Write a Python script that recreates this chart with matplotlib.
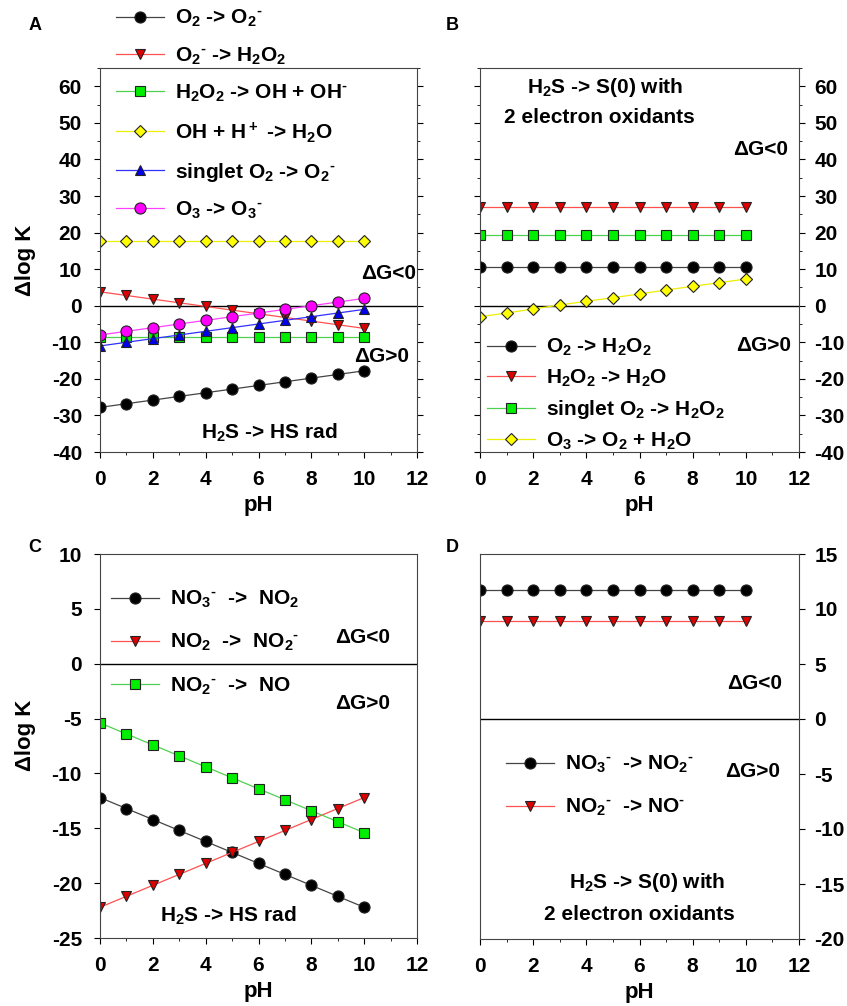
import matplotlib.pyplot as plt
from matplotlib.ticker import MultipleLocator

plt.rcParams['font.family'] = ['Liberation Sans', 'DejaVu Sans']
plt.rcParams['font.weight'] = 'bold'
plt.rcParams['axes.labelweight'] = 'bold'
plt.rcParams['mathtext.default'] = 'regular'
plt.rcParams['axes.unicode_minus'] = False
plt.rcParams['axes.edgecolor'] = '#444444'

ph = [0, 1, 2, 3, 4, 5, 6, 7, 8, 9, 10]

# A: H2S -> HS radical
a_o2 = [-27.8, -26.8, -25.8, -24.8, -23.8, -22.8, -21.8, -20.8, -19.8, -18.8, -17.8]
a_o2m = [3.8, 2.8, 1.8, 0.8, -0.2, -1.2, -2.2, -3.2, -4.2, -5.2, -6.2]
a_h2o2 = [-8.5, -8.5, -8.5, -8.5, -8.5, -8.5, -8.5, -8.5, -8.5, -8.5, -8.5]
a_oh = [17.6, 17.6, 17.6, 17.6, 17.6, 17.6, 17.6, 17.6, 17.6, 17.6, 17.6]
a_singlet = [-11, -10, -9, -8, -7, -6, -5, -4, -3, -2, -1]
a_o3 = [-8, -7, -6, -5, -4, -3, -2, -1, 0, 1, 2]

# B: H2S -> S(0), 2 electron oxidants
b_o2 = [10.7, 10.7, 10.7, 10.7, 10.7, 10.7, 10.7, 10.7, 10.7, 10.7, 10.7]
b_h2o2 = [27.1, 27.1, 27.1, 27.1, 27.1, 27.1, 27.1, 27.1, 27.1, 27.1, 27.1]
b_singlet = [19.3, 19.3, 19.3, 19.3, 19.3, 19.3, 19.3, 19.3, 19.3, 19.3, 19.3]
b_o3 = [-3.0, -2.0, -0.9, 0.2, 1.2, 2.2, 3.2, 4.3, 5.3, 6.3, 7.3]

# C: nitrogen, H2S -> HS radical
c_no3 = [-12.2, -13.2, -14.2, -15.2, -16.2, -17.2, -18.2, -19.2, -20.2, -21.2, -22.2]
c_no2 = [-22.2, -21.2, -20.2, -19.2, -18.2, -17.2, -16.2, -15.2, -14.2, -13.2, -12.2]
c_no2m = [-5.4, -6.4, -7.4, -8.4, -9.4, -10.4, -11.4, -12.4, -13.4, -14.4, -15.4]

# D: nitrogen, H2S -> S(0)
d_no3 = [11.7, 11.7, 11.7, 11.7, 11.7, 11.7, 11.7, 11.7, 11.7, 11.7, 11.7]
d_no2m = [8.9, 8.9, 8.9, 8.9, 8.9, 8.9, 8.9, 8.9, 8.9, 8.9, 8.9]

FS = 15
W, H = 847, 1006
M = '{}^{\u2010}'  # short superscript dash, placed after the subscript

# (line colour, marker, face colour)
st_black = ('#444444', 'o', 'black')
st_red = ('#ff5050', 'v', '#dd0000')
st_green = ('#50d050', 's', '#00ee00')
st_yellow = ('#eeee00', 'D', '#ffff00')
st_blue = ('#3030ff', '^', '#0000ee')
st_pink = ('#ff40ff', 'o', '#ff00ff')


def series(ax, y, style, label):
    lc, m, fc = style
    ms = 6.5 if m == 'D' else 8 if m == 'o' else 7.5
    ax.plot(ph, y, color=lc, lw=0.9, marker=m, ms=ms, mfc=fc, mec='#222222',
            mew=0.8, label=label)


def px(x, y):
    return (x / W, 1 - y / H)


def legend(ax, x, y, spacing):
    ax.legend(loc='upper left', bbox_to_anchor=px(x, y), bbox_transform=fig.transFigure,
              frameon=False, fontsize=FS, borderpad=0, borderaxespad=0,
              handlelength=2.3, handletextpad=0.55, labelspacing=spacing)


fig = plt.figure(figsize=(W / 100, H / 100), dpi=100)
axA = fig.add_axes([100 / W, 1 - 452 / H, 317 / W, 384 / H])
axB = fig.add_axes([480 / W, 1 - 452 / H, 319 / W, 384 / H])
axC = fig.add_axes([100 / W, 1 - 938 / H, 317 / W, 384 / H])
axD = fig.add_axes([480 / W, 1 - 939 / H, 319 / W, 385 / H])

for ax in (axA, axB, axC, axD):
    ax.set_xlim(0, 12)
    ax.xaxis.set_major_locator(MultipleLocator(2))
    ax.xaxis.set_minor_locator(MultipleLocator(1))
    ax.axhline(0, color='black', lw=1, zorder=1)
    ax.tick_params(which='both', direction='out', labelsize=FS, top=False)
    ax.tick_params(which='major', length=4)
    ax.tick_params(which='minor', length=2.5)
    ax.tick_params(axis='x', which='major', pad=9)
    ax.set_xlabel('pH', fontsize=FS + 1, labelpad=4)

# left-labelled panels sit further from the spine than right-labelled ones
for ax in (axA, axC):
    ax.tick_params(axis='y', which='major', pad=9)
for ax in (axB, axD):
    ax.tick_params(axis='y', which='major', pad=7)

# panel A
series(axA, a_o2, st_black, '$O_2$ -> $O_2' + M + '$')
series(axA, a_o2m, st_red, '$O_2' + M + '$ -> $H_2O_2$')
series(axA, a_h2o2, st_green, '$H_2O_2$ -> OH + $OH' + M + '$')
series(axA, a_oh, st_yellow, 'OH + $H^+$ -> $H_2O$')
series(axA, a_singlet, st_blue, 'singlet $O_2$ -> $O_2' + M + '$')
series(axA, a_o3, st_pink, '$O_3$ -> $O_3' + M + '$')
axA.set_ylim(-40, 65)
axA.set_yticks([-40, -30, -20, -10, 0, 10, 20, 30, 40, 50, 60])
axA.yaxis.set_minor_locator(MultipleLocator(5))
axA.tick_params(axis='y', which='both', left=True, right=True)
legend(axA, 116, 8, 0.77)
axA.text(11.95, 8.7, '\u0394G<0', ha='right', va='center', fontsize=FS)
axA.text(11.7, -13.9, '\u0394G>0', ha='right', va='center', fontsize=FS)
axA.text(6.4, -34.7, '$H_2S$ -> HS rad', ha='center', va='center', fontsize=FS)

# panel B
series(axB, b_o2, st_black, '$O_2$ -> $H_2O_2$')
series(axB, b_h2o2, st_red, '$H_2O_2$ -> $H_2O$')
series(axB, b_singlet, st_green, 'singlet $O_2$ -> $H_2O_2$')
series(axB, b_o3, st_yellow, '$O_3$ -> $O_2$ + $H_2O$')
axB.set_ylim(-40, 65)
axB.set_yticks([-40, -30, -20, -10, 0, 10, 20, 30, 40, 50, 60])
axB.yaxis.set_minor_locator(MultipleLocator(5))
axB.tick_params(axis='y', which='both', left=True, right=True,
                labelleft=False, labelright=True)
legend(axB, 487, 337, 0.45)
axB.text(4.7, 59.8, '$H_2S$ -> S(0) with', ha='center', va='center', fontsize=FS)
axB.text(4.5, 51.5, '2 electron oxidants', ha='center', va='center', fontsize=FS)
axB.text(11.6, 42.7, '\u0394G<0', ha='right', va='center', fontsize=FS)
axB.text(11.7, -11, '\u0394G>0', ha='right', va='center', fontsize=FS)

# panel C
series(axC, c_no3, st_black, '$NO_3' + M + '$  ->  $NO_2$')
series(axC, c_no2, st_red, '$NO_2$  ->  $NO_2' + M + '$')
series(axC, c_no2m, st_green, '$NO_2' + M + '$  ->  NO')
axC.set_ylim(-25, 10)
axC.yaxis.set_major_locator(MultipleLocator(5))
axC.tick_params(axis='y', which='both', left=True, right=False)
axC.tick_params(axis='y', which='minor', left=False)
legend(axC, 111, 589, 1.05)
axC.text(11.0, 2.4, '\u0394G<0', ha='right', va='center', fontsize=FS)
axC.text(11.0, -3.6, '\u0394G>0', ha='right', va='center', fontsize=FS)
axC.text(4.85, -23.0, '$H_2S$ -> HS rad', ha='center', va='center', fontsize=FS)

# panel D
series(axD, d_no3, st_black, '$NO_3' + M + '$  -> $NO_2' + M + '$')
series(axD, d_no2m, st_red, '$NO_2' + M + '$  -> $NO' + M + '$')
axD.set_ylim(-20, 15)
axD.yaxis.set_major_locator(MultipleLocator(5))
axD.tick_params(axis='y', which='both', left=False, right=True,
                labelleft=False, labelright=True)
axD.tick_params(axis='y', which='minor', right=False)
legend(axD, 506, 754, 1.05)
axD.text(11.35, 3.2, '\u0394G<0', ha='right', va='center', fontsize=FS)
axD.text(11.3, -4.8, '\u0394G>0', ha='right', va='center', fontsize=FS)
axD.text(6.3, -14.9, '$H_2S$ -> S(0) with', ha='center', va='center', fontsize=FS)
axD.text(6.0, -17.8, '2 electron oxidants', ha='center', va='center', fontsize=FS)

# y labels and panel letters
fig.text(*px(26, 260), '\u0394log K', rotation=90, ha='center', va='center', fontsize=FS + 1)
fig.text(*px(26, 735), '\u0394log K', rotation=90, ha='center', va='center', fontsize=FS + 1)
for letter, (x, y) in zip('ABCD', [(35, 26), (452, 26), (35, 548), (452, 548)]):
    fig.text(*px(x, y), letter, ha='center', va='center', fontsize=13)

fig.savefig('out.png', dpi=100)
